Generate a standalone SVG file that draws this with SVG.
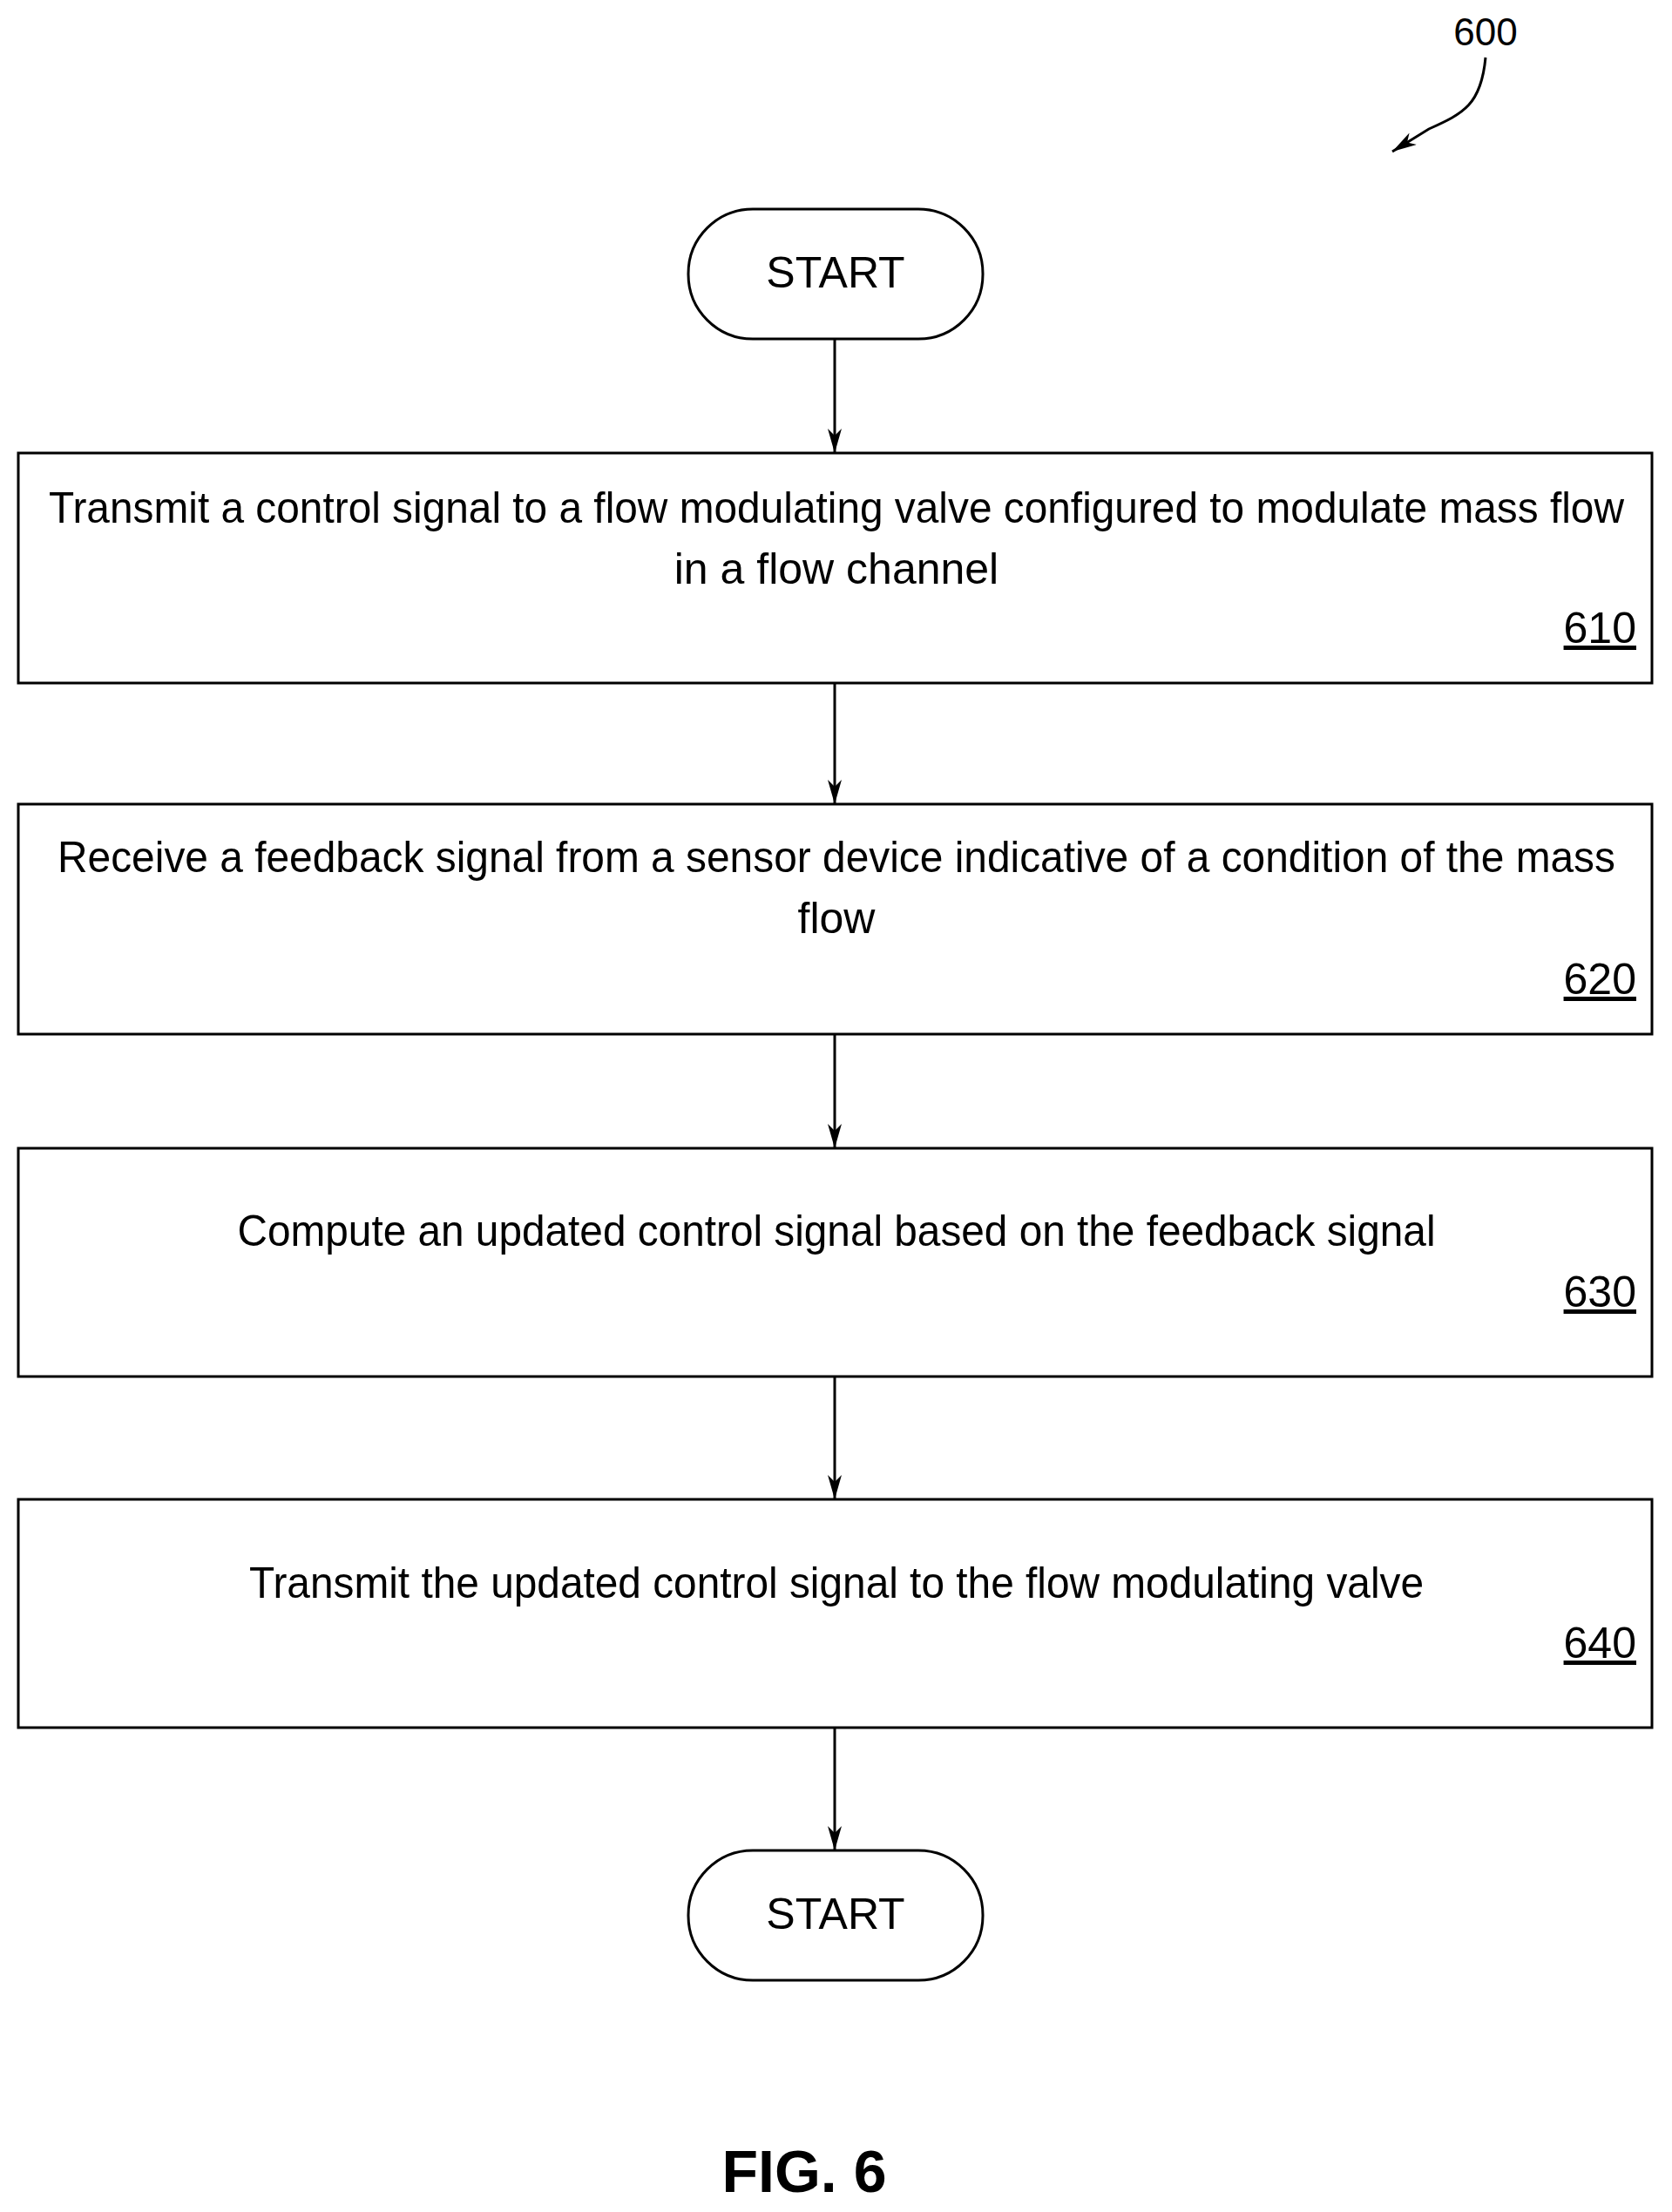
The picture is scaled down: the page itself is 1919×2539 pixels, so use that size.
<svg xmlns="http://www.w3.org/2000/svg" width="1919" height="2539" viewBox="0 0 1919 2539">
<defs>
<marker id="ah" markerWidth="28" markerHeight="16" refX="28" refY="8" orient="auto" markerUnits="userSpaceOnUse" viewBox="0 0 28 16">
<path d="M0,0 L28,8 L0,16 L8,8 Z" fill="#000"/>
</marker>
</defs>
<style>
text{font-family:"Liberation Sans Narrow","Liberation Sans",Arial,sans-serif;fill:#000}
.t{font-size:50px;text-anchor:middle}
.n{font-size:50px;text-anchor:end;text-decoration:underline}
.box{fill:#fff;stroke:#000;stroke-width:3}
.c{stroke:#000;stroke-width:3;fill:none}
</style>
<rect width="1919" height="2539" fill="#fff"/>
<text x="1705" y="52" style="font-size:44px" text-anchor="middle">600</text>
<g id="connectors">
<path class="c" d="M1705,66 C1700,120 1680,130 1640,148 L1598,174" marker-end="url(#ah)"/>
<line class="c" x1="958" y1="389" x2="958" y2="520" marker-end="url(#ah)"/>
<line class="c" x1="958" y1="784" x2="958" y2="923" marker-end="url(#ah)"/>
<line class="c" x1="958" y1="1187" x2="958" y2="1318" marker-end="url(#ah)"/>
<line class="c" x1="958" y1="1580" x2="958" y2="1721" marker-end="url(#ah)"/>
<line class="c" x1="958" y1="1983" x2="958" y2="2124" marker-end="url(#ah)"/>
</g>
<g id="start">
<rect class="box" x="790" y="240" width="338" height="149" rx="74" ry="74"/>
<text class="t" x="959" y="330">START</text>
</g>
<g id="n610">
<rect class="box" x="21" y="520" width="1875" height="264"/>
<text class="t" x="960" y="600" textLength="1808" lengthAdjust="spacingAndGlyphs">Transmit a control signal to a flow modulating valve configured to modulate mass flow</text>
<text class="t" x="960" y="670">in a flow channel</text>
<text class="n" x="1878" y="738">610</text>
</g>
<g id="n620">
<rect class="box" x="21" y="923" width="1875" height="264"/>
<text class="t" x="960" y="1001" textLength="1788" lengthAdjust="spacingAndGlyphs">Receive a feedback signal from a sensor device indicative of a condition of the mass</text>
<text class="t" x="960" y="1071">flow</text>
<text class="n" x="1878" y="1141">620</text>
</g>
<g id="n630">
<rect class="box" x="21" y="1318" width="1875" height="262"/>
<text class="t" x="960" y="1430" textLength="1375" lengthAdjust="spacingAndGlyphs">Compute an updated control signal based on the feedback signal</text>
<text class="n" x="1878" y="1500">630</text>
</g>
<g id="n640">
<rect class="box" x="21" y="1721" width="1875" height="262"/>
<text class="t" x="960" y="1834" textLength="1348" lengthAdjust="spacingAndGlyphs">Transmit the updated control signal to the flow modulating valve</text>
<text class="n" x="1878" y="1903">640</text>
</g>
<g id="end">
<rect class="box" x="790" y="2124" width="338" height="149" rx="74" ry="74"/>
<text class="t" x="959" y="2214">START</text>
</g>
<text x="923" y="2516" text-anchor="middle" style="font-size:68px;font-weight:bold">FIG. 6</text>
</svg>
